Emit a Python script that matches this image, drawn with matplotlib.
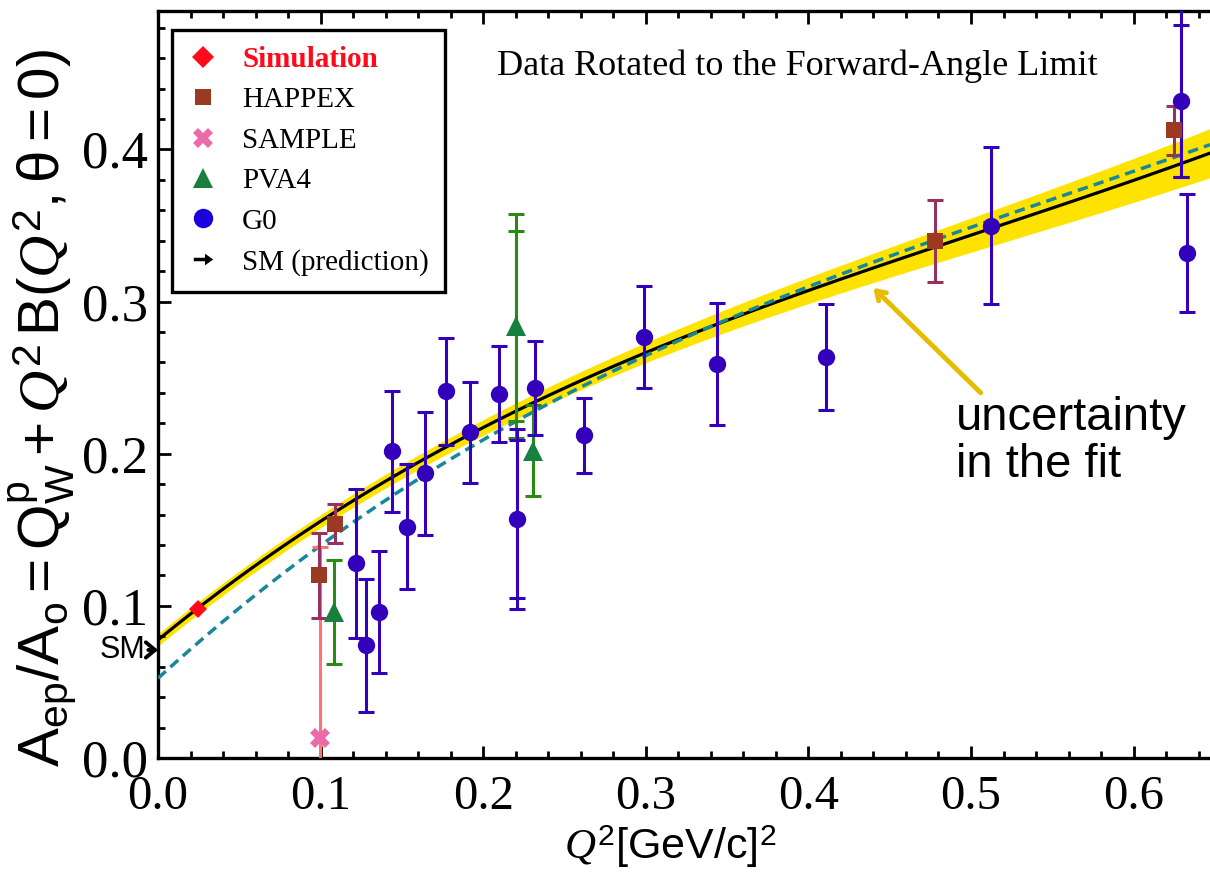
import numpy as np
import matplotlib
matplotlib.use("Agg")
import matplotlib.pyplot as plt
from matplotlib.lines import Line2D
from matplotlib.ticker import MultipleLocator, FormatStrFormatter

# ---------------- data: Q^2 in (GeV/c)^2, A_ep/A_0 ----------------
sim_q2 = [0.0244]
sim_a = [0.0978]

happex_q2 = [0.0987, 0.109, 0.478, 0.625]
happex_a = [0.120, 0.154, 0.340, 0.4125]
happex_err = [0.028, 0.013, 0.027, 0.016]

sample_q2 = [0.0997]
sample_a = [0.013]
sample_err = [0.126]

pva4_q2 = [0.108, 0.2203, 0.2306]
pva4_a = [0.096, 0.284, 0.202]
pva4_err = [0.034, 0.0735, 0.030]
pva4_stat = [np.nan, 0.0625, np.nan]

g0_q2 = [0.122, 0.128, 0.136, 0.144, 0.153, 0.164, 0.177, 0.192, 0.210,
         0.221, 0.232, 0.262, 0.299, 0.344, 0.411, 0.512, 0.629, 0.633]
g0_a = [0.128, 0.074, 0.096, 0.2015, 0.152, 0.187, 0.241, 0.214, 0.2395,
        0.157, 0.243, 0.212, 0.2765, 0.259, 0.2636, 0.350, 0.432, 0.332]
g0_err_lo = [0.049, 0.0435, 0.040, 0.0395, 0.041, 0.0405, 0.035, 0.033, 0.0315,
             0.059, 0.031, 0.0245, 0.0335, 0.040, 0.035, 0.0513, 0.050, 0.039]
g0_err_hi = [0.049, 0.0435, 0.040, 0.0395, 0.041, 0.0405, 0.035, 0.033, 0.0315,
             0.059, 0.031, 0.0245, 0.0335, 0.040, 0.035, 0.0513, 0.075, 0.039]
g0_stat = [np.nan] * 9 + [0.052] + [np.nan] * 6 + [0.050, np.nan]

sm_prediction = 0.071

# global fit  A/A0 = Qw + c1 Q^2 + c2 Q^4 + c3 Q^6  and its uncertainty band
fit_coef = [0.0776, 0.8753, -1.0189, 0.6653]
fit_band = [0.004, 0.029]          # half-width = b0 + b1 * Q^4
alt_coef = [0.0524, 0.976, -1.0918, 0.651]

legend_labels = ["Simulation", "HAPPEX", "SAMPLE", "PVA4", "G0", "SM (prediction)"]

# ---------------- colours ----------------
c_g0 = "#3300BB"
c_happex = "#9B3A23"
c_happex_bar = "#96325F"
c_sample = "#EA6AAA"
c_sample_bar = "#FF7373"
c_pva4 = "#17803F"
c_pva4_bar = "#2A8A12"
c_sim = "#FF0A1A"
c_band = "#FFE300"
c_alt = "#17879A"
c_note_arrow = "#E5BC00"

plt.rcParams["mathtext.fontset"] = "custom"
plt.rcParams["mathtext.rm"] = "Liberation Sans"
plt.rcParams["mathtext.sf"] = "Liberation Sans"
plt.rcParams["mathtext.it"] = "Liberation Serif:italic"
plt.rcParams["mathtext.bf"] = "Liberation Sans:bold"

fig = plt.figure(figsize=(12.1, 8.89), dpi=100)
ax = fig.add_axes([0.1306, 0.1474, 0.8694, 0.8402])

xmax, ymax = 0.647, 0.491
ax.set_xlim(0, xmax)
ax.set_ylim(0, ymax)

# fit curves
q = np.linspace(0, xmax, 400)
fit = np.polyval(fit_coef[::-1], q)
half = fit_band[0] + fit_band[1] * q ** 2
alt = np.polyval(alt_coef[::-1], q)
ax.fill_between(q, fit - half, fit + half, color=c_band, lw=0, zorder=1)
ax.plot(q, fit, color="black", lw=2.3, zorder=2)
ax.plot(q, alt, color=c_alt, lw=2.5, ls=(0, (3.0, 1.8)), zorder=3)


def bars(x, y, err, color, z=4):
    ax.errorbar(x, y, yerr=err, fmt="none", ecolor=color, elinewidth=2.2,
                capsize=6, capthick=2.2, zorder=z)


def inner_caps(x, y, s, color):
    x = np.asarray(x); y = np.asarray(y); s = np.asarray(s, float)
    m = ~np.isnan(s)
    if m.any():
        bars(x[m], y[m], s[m], color)


# SAMPLE
bars(sample_q2, sample_a, sample_err, c_sample_bar)
ax.plot(sample_q2, sample_a, "X", color=c_sample, ms=14, mew=0, zorder=6)
# HAPPEX
bars(happex_q2, happex_a, happex_err, c_happex_bar)
ax.plot(happex_q2, happex_a, "s", color=c_happex, ms=12, mew=0, zorder=7)
# PVA4
bars(pva4_q2, pva4_a, pva4_err, c_pva4_bar)
inner_caps(pva4_q2, pva4_a, pva4_stat, c_pva4_bar)
ax.plot(pva4_q2, pva4_a, "^", color=c_pva4, ms=15, mew=0, zorder=6)
# G0
bars(g0_q2, g0_a, [g0_err_lo, g0_err_hi], c_g0)
inner_caps(g0_q2, g0_a, g0_stat, c_g0)
ax.plot(g0_q2, g0_a, "o", color=c_g0, ms=12.5, mew=0, zorder=6)
# simulation point
ax.plot(sim_q2, sim_a, "D", color=c_sim, ms=9, mew=0, zorder=7)

# axes styling
for side in ("left", "bottom", "top"):
    ax.spines[side].set_linewidth(2.4)
ax.spines["right"].set_visible(False)
ax.xaxis.set_major_locator(MultipleLocator(0.1))
ax.xaxis.set_minor_locator(MultipleLocator(0.02))
ax.yaxis.set_major_locator(MultipleLocator(0.1))
ax.yaxis.set_minor_locator(MultipleLocator(0.02))
ax.xaxis.set_major_formatter(FormatStrFormatter("%.1f"))
ax.yaxis.set_major_formatter(FormatStrFormatter("%.1f"))
ax.tick_params(which="both", direction="in", top=True, right=False, width=2)
ax.tick_params(which="major", length=9)
ax.tick_params(which="minor", length=5)
ax.tick_params(axis="y", pad=7)
ax.tick_params(axis="x", pad=12)
for lab in ax.get_yticklabels():
    lab.set_fontfamily("Liberation Serif")
    lab.set_fontsize(38)
for lab in ax.get_xticklabels():
    lab.set_fontfamily("Liberation Serif")
    lab.set_fontsize(35)

ax.set_ylabel(r"$\mathrm{A_{ep}/A_{o} = Q_{W}^{p} + }Q^{2}\,\mathrm{B(}Q^{2}\mathrm{,\theta = 0)}$",
              fontsize=42)
ax.yaxis.set_label_coords(-0.075, 0.468)
ax.set_xlabel(r"$Q^{2}\mathrm{[GeV/c]}^{2}$", fontsize=31)
ax.xaxis.set_label_coords(0.487, -0.088)
ax.xaxis.label.set_va("top")

# standard-model marker on the vertical axis
ax.annotate("SM", xy=(0, sm_prediction), xytext=(-9, 0), textcoords="offset points",
            ha="right", va="center", fontsize=22, family="Liberation Sans",
            annotation_clip=False,
            arrowprops=dict(arrowstyle="->,head_length=0.3,head_width=0.25",
                            color="black", lw=2.8, shrinkA=0, shrinkB=0))

ax.text(0.3935, 0.449, "Data Rotated to the Forward-Angle Limit",
        ha="center", va="baseline", fontsize=26, family="Liberation Serif")

ax.annotate("", xy=(0.440, 0.309), xytext=(0.506, 0.240),
            arrowprops=dict(arrowstyle="->,head_length=0.6,head_width=0.4",
                            color=c_note_arrow, lw=3.5, shrinkA=0, shrinkB=0),
            zorder=8)
ax.text(0.4905, 0.238, "uncertainty\nin the fit", ha="left", va="top",
        fontsize=34, family="Liberation Sans", linespacing=1.1)

# legend
arrow_marker = [(-1, 0.18), (0.15, 0.18), (0.15, 0.6), (1, 0), (0.15, -0.6),
                (0.15, -0.18), (-1, -0.18), (-1, 0.18)]
handles = [
    Line2D([], [], ls="none", marker="D", color=c_sim, ms=11, mew=0),
    Line2D([], [], ls="none", marker="s", color=c_happex, ms=12, mew=0),
    Line2D([], [], ls="none", marker="X", color=c_sample, ms=14, mew=0),
    Line2D([], [], ls="none", marker="^", color=c_pva4, ms=15, mew=0),
    Line2D([], [], ls="none", marker="o", color="#1A00DD", ms=14, mew=0),
    Line2D([], [], ls="none", marker=arrow_marker, color="black", ms=14, mew=0),
]
leg = ax.legend(handles, legend_labels, loc="upper left",
                bbox_to_anchor=(0.0133, 0.9746), borderaxespad=0,
                prop={"family": "Liberation Serif", "size": 21},
                frameon=True, fancybox=False, framealpha=1, edgecolor="black",
                handlelength=1.0, handletextpad=0.85, labelspacing=0.48,
                borderpad=0.55)
leg.get_frame().set_linewidth(2.4)
leg.set_zorder(10)
first = leg.get_texts()[0]
first.set_color(c_sim)
first.set_fontweight("bold")

fig.savefig("out.png", dpi=100)
